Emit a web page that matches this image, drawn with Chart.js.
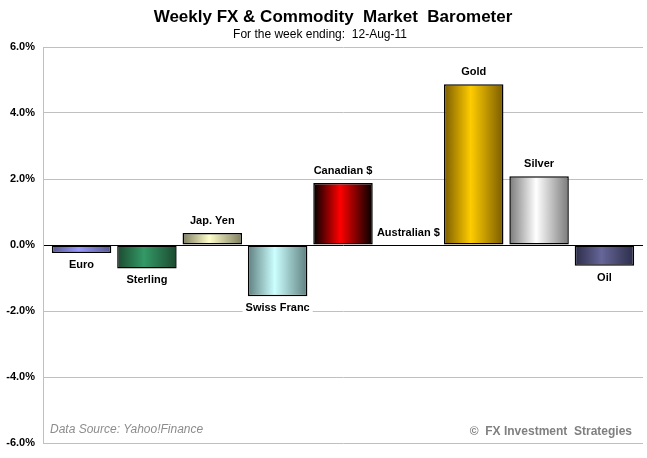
<!DOCTYPE html>
<html>
<head>
<meta charset="utf-8">
<script src="https://cdn.jsdelivr.net/npm/chart.js@4/dist/chart.umd.min.js"></script>
<style>
  html, body { margin: 0; padding: 0; background: #fff; }
  #wrap { position: relative; width: 647px; height: 458px; }
</style>
</head>
<body>
<div id="wrap"><canvas id="barChart" width="647" height="458"></canvas></div>
<script>
const markets = ['Euro', 'Sterling', 'Jap. Yen', 'Swiss Franc', 'Canadian $', 'Australian $', 'Gold', 'Silver', 'Oil'];
const weeklyChange = [-0.24, -0.71, 0.36, -1.55, 1.88, 0.0, 4.87, 2.08, -0.63];
// edge colour and centre colour for each bar's gradient
const edgeByBar = ['#55558a', '#1c4a30', '#7d7d5e', '#5f7f7f', '#000000', '#000000', '#7a5c00', '#7a7a7a', '#2c2c48'];
const centerByBar = ['#9999ff', '#339966', '#ffffcc', '#ccffff', '#ff0000', '#ff0000', '#ffcc00', '#ffffff', '#666699'];
const yTicks = [-6, -4, -2, 0, 2, 4, 6];

const labelFont = 'bold 11px "Liberation Sans", Arial, sans-serif';

function barGradient(ctx) {
  const chart = ctx.chart;
  const i = ctx.dataIndex;
  const xs = chart.scales.x;
  if (!chart.chartArea || !xs) return centerByBar[i];
  const cx = xs.getPixelForValue(i);
  const w = (xs.getPixelForValue(1) - xs.getPixelForValue(0)) * 0.91;
  const g = chart.ctx.createLinearGradient(cx - w / 2, 0, cx + w / 2, 0);
  g.addColorStop(0, edgeByBar[i]);
  g.addColorStop(0.45, centerByBar[i]);
  g.addColorStop(1, edgeByBar[i]);
  return g;
}

const barLabels = {
  id: 'barLabels',
  afterDatasetsDraw(chart) {
    const c = chart.ctx;
    const meta = chart.getDatasetMeta(0);
    c.save();
    c.font = labelFont;
    c.textAlign = 'center';
    c.textBaseline = 'middle';
    meta.data.forEach((bar, i) => {
      const v = weeklyChange[i];
      const y = v >= 0 ? bar.y - 12 : bar.y + 12;
      const tw = c.measureText(markets[i]).width;
      c.fillStyle = '#ffffff';
      c.fillRect(bar.x - tw / 2 - 3, y - 7, tw + 6, 14);
      c.fillStyle = '#000000';
      c.fillText(markets[i], bar.x, y);
    });
    c.restore();
  }
};

const headings = {
  id: 'headings',
  afterDraw(chart) {
    const c = chart.ctx;
    c.save();
    c.textAlign = 'center';
    c.textBaseline = 'middle';
    c.fillStyle = '#000000';
    c.font = 'bold 17px "Liberation Sans", Arial, sans-serif';
    c.fillText('Weekly FX & Commodity  Market  Barometer', 333, 17);
    c.font = '12px "Liberation Sans", Arial, sans-serif';
    c.fillText('For the week ending:  12-Aug-11', 320, 35);
    c.textAlign = 'left';
    c.fillStyle = '#8c8c8c';
    c.font = 'italic 12px "Liberation Sans", Arial, sans-serif';
    c.fillText('Data Source: Yahoo!Finance', 50, 430);
    c.textAlign = 'right';
    c.fillStyle = '#808080';
    c.font = 'bold 12px "Liberation Sans", Arial, sans-serif';
    c.fillText('\u00A9  FX Investment  Strategies', 632, 432);
    c.restore();
  }
};

const ctx = document.getElementById('barChart').getContext('2d');
const barChart = new Chart(ctx, {
  type: 'bar',
  data: {
    datasets: [
      {
        label: 'weekly change',
        data: weeklyChange.map((v, i) => ({ x: i, y: v })),
        backgroundColor: barGradient,
        borderColor: '#000000',
        borderWidth: 1.5,
        borderSkipped: false,
        categoryPercentage: 1,
        barPercentage: 0.91
      }
    ]
  },
  options: {
    responsive: false,
    animation: false,
    layout: { padding: { top: 47, right: 4, bottom: 15, left: 0 } },
    plugins: {
      legend: { display: false },
      tooltip: { enabled: false }
    },
    scales: {
      x: { type: 'linear', min: -0.59, max: 8.59, offset: false, display: false },
      y: {
        min: -6,
        max: 6,
        afterFit(scale) { scale.width = 43; },
        afterBuildTicks(scale) { scale.ticks = yTicks.map(v => ({ value: v })); },
        border: { color: '#c0c0c0', width: 1 },
        grid: {
          drawTicks: false,
          color: (c) => (c.tick && c.tick.value === 0 ? '#000000' : '#c0c0c0'),
          lineWidth: 1
        },
        ticks: {
          padding: 8,
          color: '#000000',
          font: { family: '"Liberation Sans", Arial, sans-serif', size: 11, weight: 'bold' },
          callback: (v) => v.toFixed(1) + '%'
        }
      }
    }
  },
  plugins: [barLabels, headings]
});
</script>
</body>
</html>
